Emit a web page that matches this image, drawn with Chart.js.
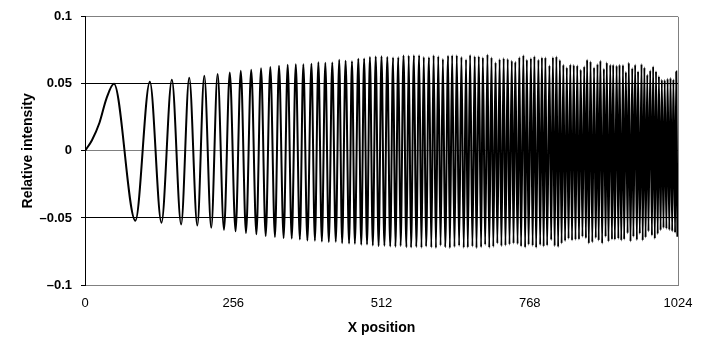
<!DOCTYPE html>
<html>
<head>
<meta charset="utf-8">
<script src="https://cdn.jsdelivr.net/npm/chart.js@4.4.1/dist/chart.umd.min.js"></script>
<style>
  body { margin: 0; background: #fff; }
  canvas { display: block; }
</style>
</head>
<body>
<canvas id="scanChart" width="704" height="338"></canvas>
<script>
// lead-in of the scan line before the first maximum
const leadX = [0, 12, 25, 37];
const leadY = [0, 0.008, 0.021, 0.039];

// positions of the successive maxima / minima (alternating, starting with a maximum)
const extremaX = [
    50, 87, 112, 132, 150, 166, 180, 194, 206, 218,
    229, 240, 250, 260, 269, 278, 287, 296, 304, 312,
    320, 328, 335, 343, 350, 357, 364, 371, 377, 384,
    391, 397, 403, 409, 415, 421, 427, 433, 439, 444,
    450, 456, 461, 466, 472, 477, 482, 487, 492, 497,
    502, 507, 512, 517, 522, 527, 532, 536, 541, 545,
    550, 555, 559, 563, 568, 572, 577, 581, 585, 589,
    594, 598, 602, 606, 610, 614, 618, 622, 627, 630,
    634, 638, 642, 646, 650, 654, 658, 661, 665, 669,
    673, 676, 680, 684, 687, 691, 695, 698, 702, 705,
    709, 712, 716, 719, 723, 726, 730, 733, 737, 740,
    743, 747, 750, 753, 757, 760, 763, 766, 770, 773,
    776, 779, 783, 786, 789, 792, 795, 798, 802, 805,
    808, 811, 814, 817, 820, 823, 826, 829, 832, 835,
    838, 841, 844, 847, 850, 853, 856, 859, 862, 865,
    867, 870, 873, 876, 879, 882, 885, 887, 890, 893,
    896, 899, 901, 904, 907, 910, 912, 915, 918, 921,
    923, 926, 929, 931, 934, 937, 939, 942, 945, 947,
    950, 953, 955, 958, 961, 963, 966, 968, 971, 973,
    976, 979, 981, 984, 986, 989, 991, 994, 996, 999,
    1001, 1004, 1006, 1009, 1011, 1014, 1016, 1019, 1021, 1023
];

// intensity at each maximum
const peakValues = [
    0.0501, 0.0516, 0.0530, 0.0546, 0.0561, 0.0573, 0.0585, 0.0598, 0.0605, 0.0617,
    0.0625, 0.0635, 0.0642, 0.0647, 0.0646, 0.0650, 0.0662, 0.0657, 0.0659, 0.0679,
    0.0672, 0.0669, 0.0687, 0.0689, 0.0701, 0.0704, 0.0706, 0.0701, 0.0696, 0.0699,
    0.0711, 0.0711, 0.0714, 0.0714, 0.0701, 0.0699, 0.0714, 0.0706, 0.0686, 0.0709,
    0.0714, 0.0714, 0.0701, 0.0681, 0.0716, 0.0706, 0.0706, 0.0696, 0.0719, 0.0696,
    0.0659, 0.0684, 0.0691, 0.0686, 0.0672, 0.0664, 0.0699, 0.0714, 0.0679, 0.0691,
    0.0706, 0.0679, 0.0696, 0.0696, 0.0637, 0.0699, 0.0704, 0.0677, 0.0642, 0.0622,
    0.0644, 0.0640, 0.0637, 0.0605, 0.0630, 0.0679, 0.0667, 0.0622, 0.0647, 0.0672,
    0.0612, 0.0659, 0.0642, 0.0642, 0.0635, 0.0642, 0.0640, 0.0588, 0.0657, 0.0617,
    0.0642, 0.0593, 0.0647, 0.0622, 0.0568, 0.0600, 0.0630, 0.0593, 0.0556, 0.0531,
    0.0528, 0.0538, 0.0543, 0.0533, 0.0593
];

// intensity at each minimum
const troughValues = [
    -0.0520, -0.0535, -0.0548, -0.0556, -0.0573, -0.0588, -0.0600, -0.0612, -0.0622, -0.0635,
    -0.0642, -0.0650, -0.0654, -0.0660, -0.0668, -0.0670, -0.0676, -0.0680, -0.0678, -0.0688,
    -0.0690, -0.0693, -0.0700, -0.0698, -0.0706, -0.0710, -0.0708, -0.0712, -0.0715, -0.0710,
    -0.0718, -0.0720, -0.0716, -0.0722, -0.0712, -0.0720, -0.0724, -0.0706, -0.0718, -0.0725,
    -0.0716, -0.0708, -0.0722, -0.0720, -0.0712, -0.0725, -0.0718, -0.0700, -0.0722, -0.0715,
    -0.0690, -0.0710, -0.0705, -0.0698, -0.0690, -0.0695, -0.0712, -0.0720, -0.0700, -0.0708,
    -0.0722, -0.0702, -0.0712, -0.0705, -0.0665, -0.0710, -0.0716, -0.0690, -0.0672, -0.0655,
    -0.0668, -0.0662, -0.0660, -0.0640, -0.0652, -0.0690, -0.0682, -0.0650, -0.0668, -0.0690,
    -0.0640, -0.0675, -0.0660, -0.0662, -0.0655, -0.0668, -0.0660, -0.0615, -0.0675, -0.0640,
    -0.0665, -0.0618, -0.0668, -0.0645, -0.0600, -0.0630, -0.0655, -0.0620, -0.0592, -0.0575,
    -0.0580, -0.0590, -0.0600, -0.0610, -0.0640
];

const xTicks = [0, 256, 512, 768, 1024];
const yTicks = [-0.1, -0.05, 0, 0.05, 0.1];

// build the point list: lead-in, then maxima and minima in turn
var points = [];
for (var i = 0; i < leadX.length; i++) {
    points.push({ x: leadX[i], y: leadY[i] });
}
for (var j = 0; j < extremaX.length; j++) {
    var v = (j % 2 == 0) ? peakValues[j / 2] : troughValues[(j - 1) / 2];
    if (v === undefined) continue;
    points.push({ x: extremaX[j], y: v });
}

function fmtY(v) {
    var r = Math.round(v * 1000) / 1000;
    if (r == 0) return '0';
    return (r < 0 ? '\u2013' : '') + String(Math.abs(r));
}

const ctx = document.getElementById('scanChart');

new Chart(ctx, {
    type: 'line',
    data: {
        datasets: [{
            data: points,
            borderColor: '#000',
            borderWidth: 2,
            pointRadius: 0,
            fill: false,
            cubicInterpolationMode: 'monotone'
        }]
    },
    options: {
        responsive: false,
        animation: false,
        layout: { padding: { left: 0, right: 26, top: 15, bottom: 0 } },
        plugins: {
            legend: { display: false },
            tooltip: { enabled: false }
        },
        scales: {
            x: {
                type: 'linear',
                min: xTicks[0],
                max: xTicks[xTicks.length - 1],
                afterBuildTicks: function(scale) {
                    scale.ticks = xTicks.map(function(t) { return { value: t }; });
                },
                afterFit: function(scale) { scale.height = 53; },
                ticks: {
                    color: '#000',
                    padding: 11,
                    maxRotation: 0,
                    callback: function(value) { return String(value); },
                    font: { family: 'Liberation Sans, Arial, sans-serif', size: 13 }
                },
                grid: {
                    drawTicks: false,
                    color: function(c) {
                        return (c.tick && c.tick.value == 1024) ? '#808080' : 'rgba(0,0,0,0)';
                    }
                },
                border: { color: '#808080', width: 1 },
                title: {
                    display: true,
                    text: 'X position',
                    color: '#000',
                    padding: { top: 0, bottom: 1 },
                    font: { family: 'Liberation Sans, Arial, sans-serif', size: 14, weight: 'bold' }
                }
            },
            y: {
                min: yTicks[0],
                max: yTicks[yTicks.length - 1],
                afterBuildTicks: function(scale) {
                    scale.ticks = yTicks.map(function(t) { return { value: t }; });
                },
                afterFit: function(scale) { scale.width = 85; },
                ticks: {
                    color: '#000',
                    padding: 9,
                    callback: function(value) { return fmtY(value); },
                    font: { family: 'Liberation Sans, Arial, sans-serif', size: 13, weight: 'bold' }
                },
                grid: {
                    drawTicks: true,
                    tickLength: 4,
                    tickColor: '#000',
                    color: function(c) {
                        if (!c.tick) return '#808080';
                        var a = Math.abs(c.tick.value);
                        return (Math.abs(a - 0.05) < 1e-6) ? '#000' : '#808080';
                    }
                },
                border: { color: '#000', width: 1 },
                title: {
                    display: true,
                    text: 'Relative intensity',
                    color: '#000',
                    padding: { top: 20, bottom: 0 },
                    font: { family: 'Liberation Sans, Arial, sans-serif', size: 14, weight: 'bold' }
                }
            }
        }
    }
});
</script>
</body>
</html>
